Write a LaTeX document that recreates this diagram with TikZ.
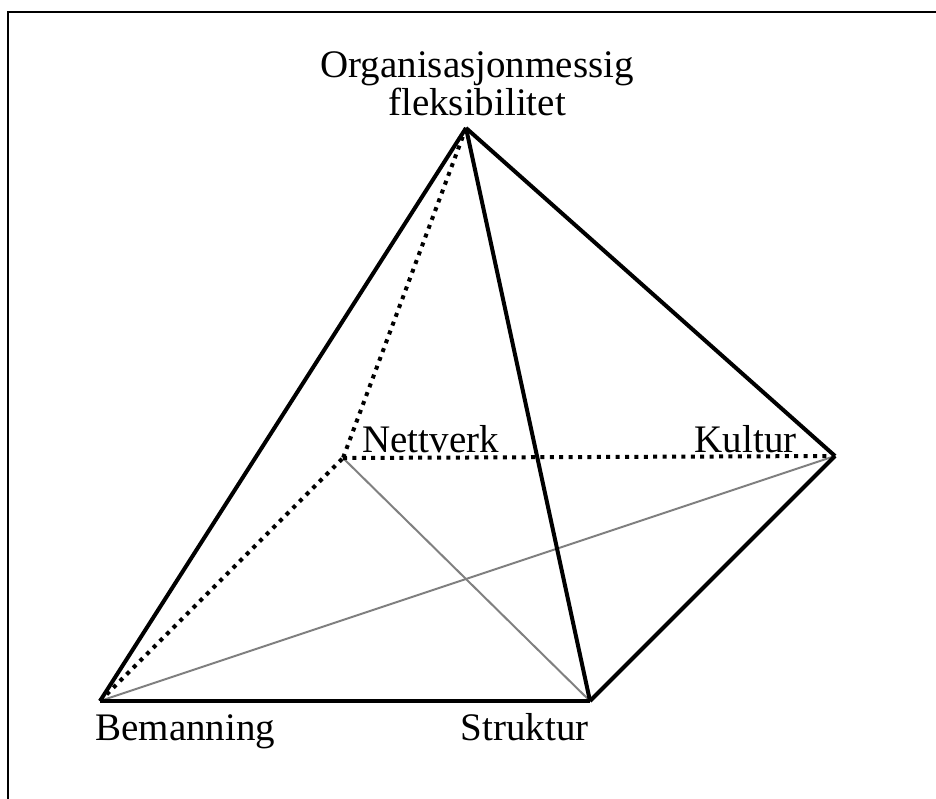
\documentclass[tikz,border=0pt]{standalone}
\usepackage{fontspec}
\setmainfont{Liberation Serif}
\usepackage{tikz}
\usetikzlibrary{positioning}

\begin{document}
\begin{tikzpicture}[x=0.5pt,y=-0.5pt]
					\tikzstyle{corner}=[coordinate]
					\tikzstyle{label}=[inner sep=0pt,font=\fontsize{19.5}{19}\selectfont]
					\tikzstyle{front}=[line width=2pt,black]
					\tikzstyle{hidden}=[line width=2pt,black,dash pattern=on 2pt off 2.7pt]
					\tikzstyle{diag}=[line width=1pt,black!50]
					\useasboundingbox (0,0) rectangle (936,798);
					% frame
					\draw[line width=1.1pt] (8,820) -- (8,12) -- (960,12);
					\node[corner](top) at (466,128) {};
					\node[corner](bem) at (100,701) {};
					\node[corner](str) at (590,701) {};
					\node[corner](kul) at (835,456) {};
					\node[corner](net) at (343,458) {};
					\path[diag]
						(net) edge node {}(str)
						(bem) edge node {}(kul);
					\path[hidden]
						(top) edge node {}(net)
						(bem) edge node {}(net)
						(net) edge node {}(kul);
					\path[front,line join=round]
						(top) edge node {}(bem)
						(top) edge node {}(str)
						(top) edge node {}(kul)
						(bem) edge node {}(str)
						(str) edge node {}(kul);
					\node[label,align=center,anchor=base](toplab) at (477,115) {Organisasjonmessig\\fleksibilitet};
					\node[label,anchor=base west](netlab) at (362,452) {Nettverk};
					\node[label,anchor=base east](kullab) at (797,452) {Kultur};
					\node[label,anchor=base west](bemlab) at (95,740) {Bemanning};
					\node[label,anchor=base east](strlab) at (589,740) {Struktur};
				\end{tikzpicture}
\end{document}
